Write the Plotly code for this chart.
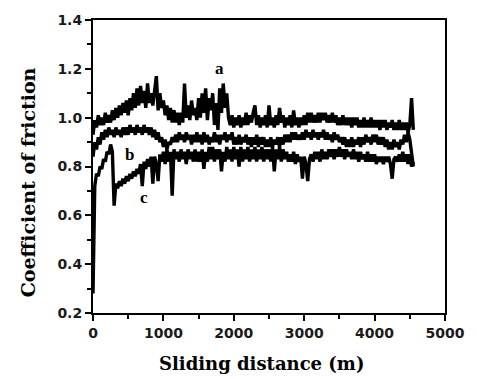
import plotly.graph_objects as go

distance = list(range(0, 4551, 25))

cof_a = [0.93, 0.99, 0.96, 1.01, 0.97, 1.00, 0.97, 1.02, 0.98, 1.01, 0.98, 1.03, 0.99, 1.04, 1.00, 1.05, 1.01, 1.06, 1.02, 1.07,
         1.01, 1.08, 1.03, 1.10, 1.04, 1.12, 1.05, 1.13, 1.06, 1.11, 1.04, 1.14, 1.06, 1.10, 1.05, 1.12, 1.17, 1.03, 1.10, 1.04,
         1.07, 1.01, 1.05, 0.99, 1.04, 0.98, 1.03, 0.98, 1.02, 0.97, 1.02, 0.98, 1.14, 1.00, 1.05, 0.99, 1.07, 1.01, 1.04, 0.99,
         1.08, 1.00, 1.10, 1.02, 1.12, 0.99, 1.08, 1.03, 1.10, 0.97, 1.06, 0.95, 1.12, 1.02, 1.14, 1.04, 1.10, 1.00, 0.97, 1.01,
         0.96, 1.00, 0.97, 1.01, 0.96, 1.00, 0.97, 1.02, 0.97, 1.01, 0.98, 1.02, 1.05, 0.97, 1.01, 0.96, 1.00, 0.97, 1.01, 0.96,
         1.05, 0.97, 1.00, 0.96, 1.01, 0.97, 1.04, 0.98, 1.01, 0.96, 1.00, 0.97, 1.01, 0.96, 1.03, 0.97, 1.00, 0.96, 1.00, 0.97,
         1.01, 0.97, 1.02, 0.98, 1.02, 0.98, 1.01, 0.98, 1.02, 0.98, 1.02, 0.99, 1.02, 0.98, 1.01, 0.98, 1.02, 0.98, 1.01, 0.97,
         1.00, 0.97, 1.01, 0.97, 1.00, 0.97, 1.00, 0.96, 1.00, 0.97, 1.00, 0.96, 0.99, 0.96, 1.00, 0.96, 0.99, 0.96, 1.00, 0.96,
         0.99, 0.96, 0.99, 0.95, 0.99, 0.96, 0.99, 0.95, 0.98, 0.96, 0.99, 0.95, 0.98, 0.95, 0.99, 0.95, 0.98, 0.95, 0.98, 0.94,
         0.97, 1.08, 0.95]

cof_b = [0.84, 0.90, 0.87, 0.92, 0.89, 0.94, 0.91, 0.95, 0.92, 0.96, 0.93, 0.95, 0.92, 0.96, 0.93, 0.95, 0.92, 0.96, 0.93, 0.96,
         0.93, 0.97, 0.94, 0.96, 0.93, 0.97, 0.94, 0.96, 0.93, 0.97, 0.94, 0.96, 0.93, 0.96, 0.92, 0.95, 0.91, 0.94, 0.90, 0.92,
         0.88, 0.91, 0.87, 0.90, 0.89, 0.92, 0.90, 0.93, 0.90, 0.94, 0.91, 0.93, 0.90, 0.94, 0.91, 0.93, 0.89, 0.93, 0.90, 0.94,
         0.90, 0.93, 0.89, 0.94, 0.90, 0.93, 0.89, 0.92, 0.90, 0.94, 0.90, 0.93, 0.89, 0.93, 0.91, 0.94, 0.90, 0.93, 0.91, 0.94,
         0.89, 0.92, 0.89, 0.93, 0.89, 0.92, 0.90, 0.93, 0.89, 0.92, 0.88, 0.92, 0.89, 0.93, 0.88, 0.92, 0.89, 0.92, 0.88, 0.91,
         0.88, 0.92, 0.88, 0.91, 0.89, 0.92, 0.88, 0.92, 0.89, 0.93, 0.90, 0.93, 0.90, 0.94, 0.91, 0.94, 0.91, 0.93, 0.91, 0.94,
         0.91, 0.95, 0.92, 0.94, 0.91, 0.95, 0.92, 0.94, 0.91, 0.94, 0.92, 0.95, 0.91, 0.94, 0.91, 0.93, 0.90, 0.94, 0.91, 0.93,
         0.90, 0.92, 0.89, 0.92, 0.88, 0.91, 0.88, 0.92, 0.88, 0.91, 0.89, 0.92, 0.88, 0.92, 0.89, 0.93, 0.90, 0.92, 0.89, 0.93,
         0.90, 0.93, 0.89, 0.92, 0.89, 0.92, 0.88, 0.91, 0.87, 0.90, 0.87, 0.91, 0.88, 0.90, 0.87, 0.91, 0.89, 0.93, 0.90, 0.94,
         0.91, 0.85, 0.80]

cof_c = [0.28, 0.72, 0.77, 0.76, 0.80, 0.79, 0.83, 0.82, 0.86, 0.85, 0.89, 0.86, 0.64, 0.73, 0.71, 0.74, 0.72, 0.75, 0.73, 0.76,
         0.74, 0.77, 0.75, 0.78, 0.76, 0.79, 0.77, 0.81, 0.72, 0.82, 0.79, 0.83, 0.80, 0.84, 0.73, 0.84, 0.81, 0.74, 0.85, 0.82,
         0.86, 0.81, 0.87, 0.82, 0.86, 0.68, 0.87, 0.83, 0.86, 0.82, 0.87, 0.83, 0.86, 0.81, 0.87, 0.83, 0.86, 0.82, 0.87, 0.82,
         0.86, 0.82, 0.87, 0.79, 0.86, 0.82, 0.88, 0.83, 0.88, 0.82, 0.87, 0.83, 0.87, 0.78, 0.86, 0.82, 0.88, 0.83, 0.87, 0.82,
         0.88, 0.83, 0.87, 0.80, 0.88, 0.82, 0.87, 0.83, 0.88, 0.82, 0.87, 0.83, 0.88, 0.82, 0.87, 0.83, 0.88, 0.82, 0.87, 0.83,
         0.87, 0.82, 0.88, 0.78, 0.87, 0.83, 0.88, 0.82, 0.87, 0.83, 0.86, 0.82, 0.85, 0.82, 0.86, 0.81, 0.85, 0.82, 0.84, 0.75,
         0.84, 0.81, 0.74, 0.83, 0.85, 0.82, 0.86, 0.83, 0.86, 0.82, 0.87, 0.83, 0.86, 0.83, 0.87, 0.84, 0.87, 0.83, 0.87, 0.84,
         0.88, 0.84, 0.87, 0.83, 0.87, 0.84, 0.86, 0.83, 0.87, 0.83, 0.86, 0.82, 0.86, 0.83, 0.85, 0.82, 0.86, 0.82, 0.85, 0.82,
         0.85, 0.81, 0.84, 0.82, 0.84, 0.81, 0.84, 0.82, 0.84, 0.81, 0.75, 0.83, 0.84, 0.82, 0.85, 0.82, 0.86, 0.82, 0.85, 0.81,
         0.85, 0.80, 0.82]

curve_labels = ["a", "b", "c"]
label_x = [1800, 520, 720]
label_y = [1.20, 0.85, 0.675]

fig = go.Figure()
for ys in (cof_a, cof_b, cof_c):
    fig.add_trace(go.Scatter(x=distance, y=ys, mode="lines",
                             line=dict(color="black", width=3.4),
                             showlegend=False, hoverinfo="skip"))

for t, lx, ly in zip(curve_labels, label_x, label_y):
    fig.add_annotation(x=lx, y=ly, text=t, showarrow=False,
                       font=dict(family="Liberation Serif", size=17,
                                 color="black", weight="bold"))

title_font = dict(family="DejaVu Serif", color="black", weight="bold")
fig.add_annotation(xref="paper", yref="paper", x=-0.184, y=0.447,
                   text="Coefficient of friction", textangle=-90,
                   showarrow=False, xanchor="center", yanchor="middle",
                   font=dict(size=19, **title_font))
fig.add_annotation(xref="paper", yref="paper", x=0.479, y=-0.174,
                   text="Sliding distance (m)",
                   showarrow=False, xanchor="center", yanchor="middle",
                   font=dict(size=18, **title_font))

axis_common = dict(
    showline=True, linecolor="black", linewidth=2, mirror=True,
    ticks="outside", ticklen=6, tickwidth=2, tickcolor="black",
    showgrid=False, zeroline=False,
    tickfont=dict(family="DejaVu Sans", size=14, color="#1a1a1a",
                  weight="bold"),
)

fig.update_xaxes(range=[0, 5000], dtick=1000, tick0=0,
                 minor=dict(ticks="outside", ticklen=4, dtick=500,
                            tickcolor="black", tickwidth=2),
                 **axis_common)
fig.update_yaxes(range=[0.2, 1.4], dtick=0.2, tick0=0.2, tickformat=".1f",
                 minor=dict(ticks="outside", ticklen=4, dtick=0.1,
                            tickcolor="black", tickwidth=2),
                 **axis_common)

fig.update_layout(width=477, height=379,
                  margin=dict(l=93, r=25, t=20, b=66),
                  plot_bgcolor="white", paper_bgcolor="white")

fig.write_html("out.html")
